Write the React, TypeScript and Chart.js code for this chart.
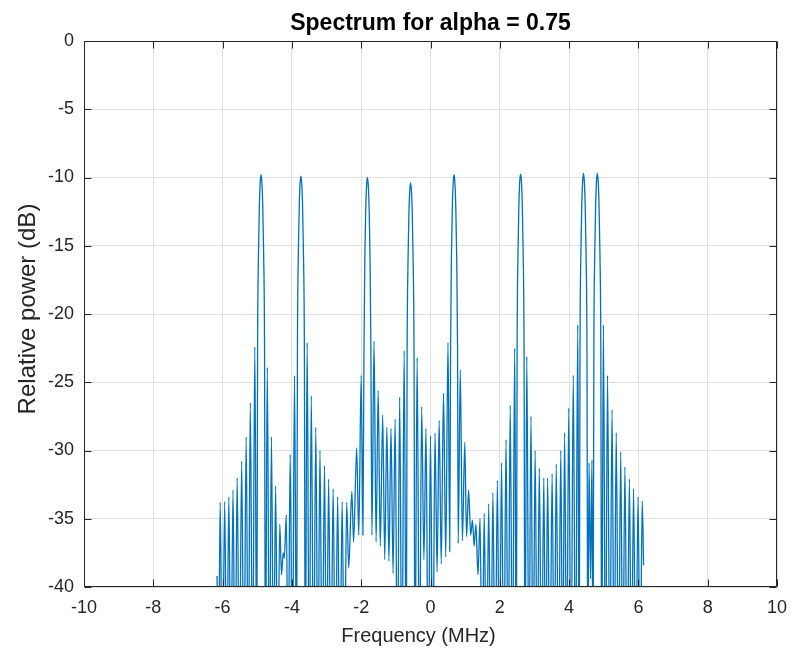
import React, { useEffect, useRef } from 'react';
import { Chart, registerables } from 'chart.js';

Chart.register(...registerables);

// N marks a spectral null that falls below the visible -40 dB floor
const N = -48;

const chartTitle = 'Spectrum for alpha = 0.75';
const xLabel = 'Frequency (MHz)';
const yLabel = 'Relative power (dB)';

const xTickValues = [-10, -8, -6, -4, -2, 0, 2, 4, 6, 8, 10];
const yTickValues = [0, -5, -10, -15, -20, -25, -30, -35, -40];

const freqMHz = [
  -6.16, -6.12, -6.07, -6.005, -5.94, -5.88, -5.82, -5.76, -5.70, -5.64,
  -5.58, -5.515, -5.45, -5.385, -5.32, -5.26, -5.20, -5.135, -5.07, -5.015,
  -4.99, -4.965, -4.94, -4.915, -4.89, -4.865, -4.84, -4.815, -4.79, -4.765,
  -4.71, -4.65, -4.59, -4.53, -4.47, -4.41, -4.35, -4.30, -4.25, -4.22,
  -4.16, -4.11, -4.05, -3.985, -3.925, -3.865,
  -3.84, -3.815, -3.79, -3.765, -3.74, -3.715, -3.69, -3.665, -3.64, -3.615,
  -3.56, -3.50, -3.44, -3.375, -3.31, -3.25, -3.19, -3.125, -3.06, -3.00,
  -2.94, -2.875, -2.81, -2.745, -2.68, -2.615, -2.55, -2.485, -2.42, -2.36,
  -2.27, -2.22, -2.13, -2.07, -2.00, -1.95,
  -1.92, -1.895, -1.87, -1.845, -1.82, -1.795, -1.77, -1.745, -1.72, -1.69,
  -1.63, -1.57, -1.51, -1.45, -1.38, -1.32, -1.26, -1.20, -1.14, -1.08,
  -1.02, -0.955, -0.89, -0.825, -0.76, -0.70,
  -0.675, -0.65, -0.625, -0.60, -0.575, -0.55, -0.525, -0.50, -0.475, -0.45,
  -0.385, -0.32, -0.255, -0.19, -0.13, -0.065, 0.00, 0.065, 0.13, 0.19,
  0.25, 0.31, 0.375, 0.44, 0.505, 0.555,
  0.58, 0.605, 0.63, 0.655, 0.68, 0.705, 0.73, 0.755, 0.78, 0.80,
  0.86, 0.92, 0.99, 1.04, 1.10, 1.16, 1.21, 1.26, 1.31, 1.37,
  1.43, 1.49, 1.55, 1.615, 1.68, 1.74, 1.80, 1.865, 1.93, 1.99,
  2.05, 2.115, 2.18, 2.24, 2.30, 2.365, 2.43, 2.475,
  2.50, 2.525, 2.55, 2.575, 2.60, 2.625, 2.65, 2.675, 2.70, 2.725,
  2.78, 2.84, 2.90, 2.96, 3.02, 3.08, 3.14, 3.205, 3.27, 3.325,
  3.38, 3.445, 3.51, 3.57, 3.63, 3.695, 3.76, 3.815, 3.87, 3.93,
  3.99, 4.055, 4.12, 4.185, 4.25, 4.29,
  4.315, 4.34, 4.365, 4.39, 4.415, 4.44, 4.465, 4.49, 4.515, 4.54,
  4.575, 4.62, 4.66, 4.69,
  4.715, 4.74, 4.765, 4.79, 4.815, 4.84, 4.865, 4.89, 4.915, 4.94,
  4.99, 5.05, 5.11, 5.175, 5.24, 5.30, 5.36, 5.425, 5.49, 5.55,
  5.61, 5.675, 5.74, 5.80, 5.86, 5.925, 5.99, 6.05, 6.11, 6.15,
];

const powerDb = [
  -39.2, N, -33.8, N, -33.75, N, -33.4, N, -32.9, N,
  -32.0, N, -30.8, N, -29.0, N, -26.5, N, -22.4, N,
  -22.4, -15.7, -12.2, -10.4, -9.8, -10.4, -12.2, -15.7, -22.4, N,
  -23.9, N, -29.0, N, -32.6, N, -35.4, -39.1, -37.5, -37.9,
  -34.7, N, -30.3, N, -24.5, N,
  -22.5, -15.8, -12.3, -10.5, -9.9, -10.5, -12.3, -15.8, -22.5, N,
  -22.1, N, -26.0, N, -28.3, N, -30.0, N, -31.1, N,
  -32.1, N, -32.8, N, -33.4, N, -33.75, N, -33.8, -38.6,
  -33.0, -36.7, -29.8, -36.2, -24.5, -36.2,
  -22.6, -15.9, -12.4, -10.6, -10.0, -10.6, -12.4, -15.9, -22.6, -36.2,
  -22.0, -36.7, -25.6, -37.0, -27.4, -38.0, -28.3, -38.1, -28.4, -39.0,
  -27.7, N, -26.1, N, -22.7, N,
  -23.0, -16.3, -12.8, -11.0, -10.4, -11.0, -12.8, -16.3, -23.0, N,
  -23.2, N, -26.8, -38.0, -28.4, N, -28.9, N, -28.7, -38.9,
  -27.8, -38.3, -25.8, -37.8, -22.1, -37.4,
  -22.4, -15.7, -12.2, -10.4, -9.8, -10.4, -12.2, -15.7, -22.4, -36.8,
  -24.1, -36.6, -29.4, -36.3, -32.9, -36.2, -35.1, -37.0, -35.4, -39.1,
  -35.0, N, -34.6, N, -33.9, N, -33.1, N, -32.2, N,
  -30.9, N, -29.2, N, -26.7, N, -22.5, N,
  -22.4, -15.6, -12.1, -10.3, -9.75, -10.3, -12.1, -15.6, -22.4, N,
  -23.1, N, -27.5, N, -30.0, N, -31.3, N, -32.0, N,
  -32.0, N, -31.7, N, -31.0, N, -30.0, N, -28.7, N,
  -26.9, N, -24.5, N, -20.8, N,
  -22.3, -15.6, -12.1, -10.3, -9.7, -10.3, -12.1, -15.6, -22.3, N,
  -30.9, -39.4, -30.7, N,
  -22.3, -15.6, -12.1, -10.3, -9.7, -10.3, -12.1, -15.6, -22.3, N,
  -20.8, N, -24.5, N, -27.0, N, -28.7, N, -30.1, N,
  -31.2, N, -32.1, N, -32.8, N, -33.4, N, -33.7, -38.4,
];

const FONT = '"Liberation Sans", Arial, Helvetica, sans-serif';
const AXIS_COLOR = '#262626';
const GRID_COLOR = '#dfdfdf';
const LINE_COLOR = '#0072BD';

const matlabBox = {
  id: 'matlabBox',
  afterDraw(chart: any) {
    const { ctx, chartArea } = chart;
    const { left, right, top, bottom } = chartArea;
    const xs = chart.scales.x;
    const ys = chart.scales.y;
    const tl = 7;
    ctx.save();
    ctx.strokeStyle = AXIS_COLOR;
    ctx.lineWidth = 1;
    ctx.beginPath();
    const L = Math.round(left) + 0.5;
    const R = Math.round(right) - 0.5;
    const T = Math.round(top) + 0.5;
    const B = Math.round(bottom) - 0.5;
    ctx.rect(L, T, R - L, B - T);
    xTickValues.forEach((v) => {
      const px = Math.round(xs.getPixelForValue(v)) + 0.5;
      ctx.moveTo(px, B);
      ctx.lineTo(px, B - tl);
      ctx.moveTo(px, T);
      ctx.lineTo(px, T + tl);
    });
    yTickValues.forEach((v) => {
      const py = Math.round(ys.getPixelForValue(v)) + 0.5;
      ctx.moveTo(L, py);
      ctx.lineTo(L + tl, py);
      ctx.moveTo(R, py);
      ctx.lineTo(R - tl, py);
    });
    ctx.stroke();

    // axis labels
    ctx.fillStyle = AXIS_COLOR;
    ctx.textAlign = 'center';
    ctx.textBaseline = 'middle';
    ctx.font = `20px ${FONT}`;
    ctx.fillText(xLabel, (left + right) / 2 - 12, 636);
    ctx.save();
    ctx.translate(28, (top + bottom) / 2 - 5);
    ctx.rotate(-Math.PI / 2);
    ctx.font = `24px ${FONT}`;
    ctx.fillText(yLabel, 0, 0);
    ctx.restore();
    ctx.restore();
  },
};

export default function App() {
  const canvasRef = useRef<HTMLCanvasElement>(null);

  useEffect(() => {
    const canvas = canvasRef.current;
    if (!canvas) return;
    const points = freqMHz.map((f, i) => ({ x: f, y: powerDb[i] }));
    const chart = new Chart(canvas, {
      type: 'line',
      data: {
        datasets: [
          {
            data: points,
            borderColor: LINE_COLOR,
            borderWidth: 1.3,
            pointRadius: 0,
            fill: false,
            cubicInterpolationMode: 'monotone',
          },
        ],
      },
      options: {
        animation: false,
        responsive: true,
        maintainAspectRatio: false,
        layout: { padding: { left: 0, right: 15, top: 0, bottom: 0 } },
        plugins: {
          legend: { display: false },
          tooltip: { enabled: false },
          title: {
            display: true,
            fullSize: false,
            text: chartTitle,
            color: '#000',
            font: { family: FONT, size: 23, weight: 'bold' },
            padding: { top: 10, bottom: 3.4 },
          },
        },
        scales: {
          x: {
            type: 'linear',
            min: -10,
            max: 10,
            afterBuildTicks: (s: any) => {
              s.ticks = xTickValues.map((v) => ({ value: v }));
            },
            ticks: {
              color: AXIS_COLOR,
              font: { family: FONT, size: 18 },
              padding: 10,
              maxRotation: 0,
              autoSkip: false,
            },
            grid: { color: GRID_COLOR, drawTicks: false },
            border: { display: false },
            afterFit: (s: any) => {
              s.height = 65;
              s.paddingLeft = 0;
              s.paddingRight = 0;
            },
          },
          y: {
            type: 'linear',
            min: -40,
            max: 0,
            afterBuildTicks: (s: any) => {
              s.ticks = yTickValues.map((v) => ({ value: v }));
            },
            ticks: {
              color: AXIS_COLOR,
              font: { family: FONT, size: 18 },
              padding: 10,
              autoSkip: false,
            },
            grid: { color: GRID_COLOR, drawTicks: false },
            border: { display: false },
            afterFit: (s: any) => {
              s.width = 84;
            },
          },
        },
      },
      plugins: [matlabBox],
    } as any);
    return () => chart.destroy();
  }, []);

  return (
    <div
      style={{
        position: 'fixed',
        left: 0,
        top: 0,
        width: 792,
        height: 652,
        background: '#fff',
      }}
    >
      <canvas ref={canvasRef} />
    </div>
  );
}
